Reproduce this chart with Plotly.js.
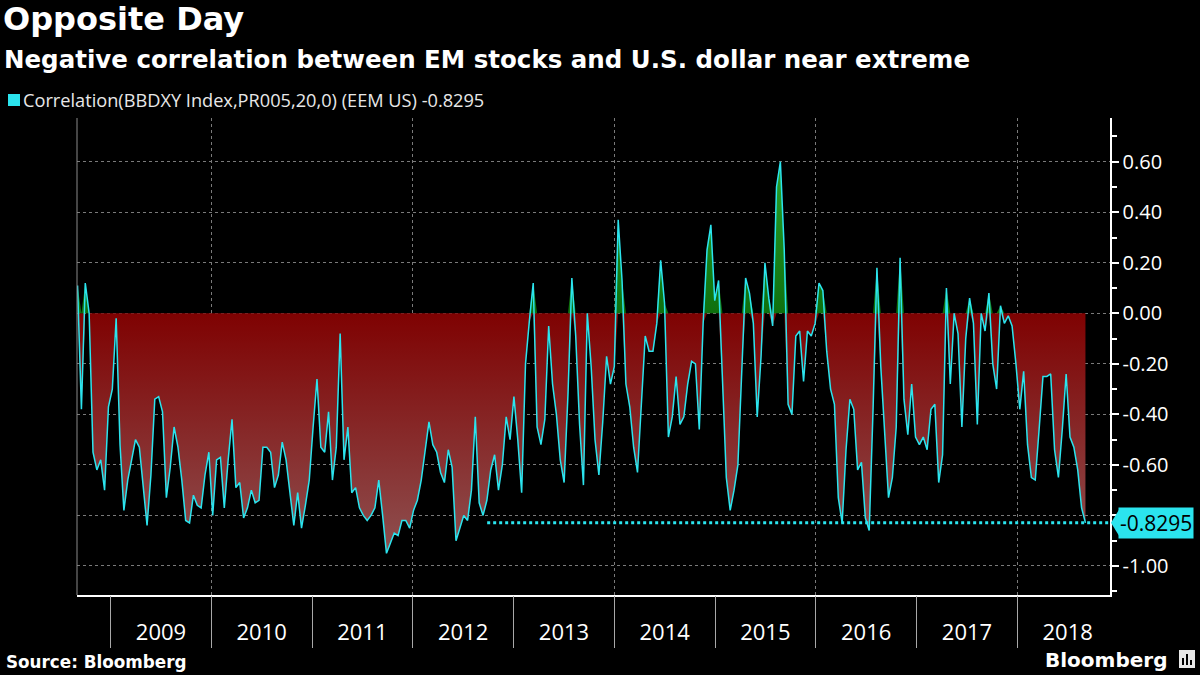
<!DOCTYPE html>
<html>
<head>
<meta charset="utf-8">
<script src="https://cdn.plot.ly/plotly-3.0.1.min.js"></script>
<style>
  html, body { margin: 0; padding: 0; background: #000; }
  #chart { width: 1200px; height: 675px; }
</style>
</head>
<body>
<div id="chart"></div>
<script>
// ---------------- DATA ----------------
const seriesName = 'Correlation(BBDXY Index,PR005,20,0) (EEM US) -0.8295';
const seriesStart = '2008-09-03';   // first observation
const seriesStepDays = 14;          // spacing between observations
const correlation = [
  0.11, -0.38, 0.12, 0.00, -0.55, -0.62, -0.58, -0.70, -0.37, -0.30,
  -0.02, -0.52, -0.78, -0.66, -0.58, -0.50, -0.53, -0.70, -0.84, -0.64,
  -0.34, -0.33, -0.39, -0.73, -0.61, -0.45, -0.53, -0.66, -0.82, -0.83,
  -0.72, -0.76, -0.77, -0.64, -0.55, -0.80, -0.58, -0.57, -0.77, -0.58,
  -0.42, -0.69, -0.67, -0.81, -0.77, -0.70, -0.75, -0.74, -0.53, -0.53,
  -0.55, -0.69, -0.64, -0.51, -0.58, -0.71, -0.84, -0.71, -0.85, -0.76,
  -0.66, -0.45, -0.26, -0.53, -0.55, -0.39, -0.66, -0.53, -0.08, -0.58,
  -0.45, -0.71, -0.69, -0.77, -0.80, -0.82, -0.80, -0.77, -0.66, -0.80,
  -0.95, -0.91, -0.87, -0.88, -0.82, -0.82, -0.85, -0.78, -0.74, -0.66,
  -0.55, -0.43, -0.52, -0.55, -0.63, -0.67, -0.54, -0.61, -0.90, -0.85,
  -0.80, -0.82, -0.70, -0.41, -0.75, -0.80, -0.74, -0.62, -0.56, -0.70,
  -0.60, -0.41, -0.50, -0.33, -0.50, -0.71, -0.20, -0.03, 0.12, -0.45,
  -0.52, -0.42, -0.05, -0.28, -0.40, -0.58, -0.67, -0.32, 0.14, -0.09,
  -0.44, -0.68, 0.00, -0.21, -0.50, -0.64, -0.43, -0.17, -0.28, -0.21,
  0.37, 0.13, -0.28, -0.37, -0.53, -0.63, -0.36, -0.09, -0.15, -0.15,
  -0.04, 0.21, 0.04, -0.49, -0.41, -0.25, -0.44, -0.41, -0.28, -0.19,
  -0.20, -0.46, -0.04, 0.25, 0.35, 0.05, 0.13, -0.28, -0.65, -0.78,
  -0.70, -0.60, -0.21, 0.14, 0.08, -0.04, -0.41, -0.17, 0.20, 0.06,
  -0.05, 0.50, 0.60, 0.25, -0.36, -0.40, -0.09, -0.07, -0.27, -0.07,
  -0.09, -0.04, 0.12, 0.09, -0.15, -0.30, -0.36, -0.73, -0.83, -0.54,
  -0.34, -0.38, -0.62, -0.59, -0.81, -0.86, -0.38, 0.18, -0.21, -0.46,
  -0.73, -0.65, -0.45, 0.22, -0.34, -0.48, -0.28, -0.49, -0.52, -0.49,
  -0.54, -0.38, -0.36, -0.67, -0.56, 0.10, -0.28, 0.00, -0.08, -0.45,
  -0.10, 0.06, -0.04, -0.44, 0.00, -0.07, 0.08, -0.20, -0.30, 0.03,
  -0.04, -0.01, -0.05, -0.20, -0.38, -0.23, -0.52, -0.65, -0.66, -0.46,
  -0.25, -0.25, -0.24, -0.54, -0.65, -0.46, -0.24, -0.49, -0.53, -0.62,
  -0.77, -0.8295
];
const lastValue = -0.8295;
const lastLabel = '-0.8295';
const lastLevelSince = '2012-09-27';   // start of the dotted last-value guide
const xRange = ['2008-09-01', '2018-12-03'];
const yearStarts = ['2009-01-01','2010-01-01','2011-01-01','2012-01-01','2013-01-01',
                    '2014-01-01','2015-01-01','2016-01-01','2017-01-01','2018-01-01'];
const gridYears = ['2010-01-01','2012-01-01','2014-01-01','2016-01-01','2018-01-01'];
const yTickVals = [-1.0, -0.8, -0.6, -0.4, -0.2, 0.0, 0.2, 0.4, 0.6];
const yTickText = ['-1.00', '-0.80', '-0.60', '-0.40', '-0.20', '0.00', '0.20', '0.40', '0.60'];
const titleText = 'Opposite Day';
const subtitleText = 'Negative correlation between EM stocks and U.S. dollar near extreme';
const sourceText = 'Source: Bloomberg';

// ---------------- BUILD ----------------
const t0 = Date.parse(seriesStart + 'T00:00:00Z');
const dates = correlation.map((_, i) =>
  new Date(t0 + i * seriesStepDays * 86400000).toISOString().slice(0, 10));
const zeros = correlation.map(() => 0);
const negPart = correlation.map(v => Math.min(v, 0));
const posPart = correlation.map(v => Math.max(v, 0));

const CYAN = '#2be4ee';
const openSans = '"Open Sans", "DejaVu Sans", sans-serif';
const dejavu = '"DejaVu Sans", sans-serif';

// plot-area pixel helpers for placing text outside the plot (layout only)
const L = 77, R = 1110, T = 118, B = 595;
const px = p => (p - L) / (R - L);
const py = p => (B - p) / (B - T);

const traces = [
  { x: dates, y: zeros, mode: 'lines', line: { width: 0 }, hoverinfo: 'skip', showlegend: false },
  { x: dates, y: negPart, mode: 'lines', line: { width: 0 }, fill: 'tonexty',
    fillcolor: '#7d0202',
    fillgradient: { type: 'vertical', start: 0, stop: -0.95,
      colorscale: [[0, '#7f0202'], [1, '#8e5050']] },
    hoverinfo: 'skip', showlegend: false },
  { x: dates, y: zeros, mode: 'lines', line: { width: 0 }, hoverinfo: 'skip', showlegend: false },
  { x: dates, y: posPart, mode: 'lines', line: { width: 0 }, fill: 'tonexty',
    fillcolor: '#178a17',
    fillgradient: { type: 'vertical', start: 0.6, stop: 0,
      colorscale: [[0, '#2aa02a'], [1, '#0e700e']] },
    hoverinfo: 'skip', showlegend: false },
  { x: [lastLevelSince, xRange[1]], y: [lastValue, lastValue], xaxis: 'x2', yaxis: 'y',
    mode: 'lines', line: { color: CYAN, width: 3, dash: 'dot' }, hoverinfo: 'skip', showlegend: false },
  { x: dates, y: correlation, xaxis: 'x3', yaxis: 'y', name: seriesName,
    mode: 'lines', line: { color: CYAN, width: 1.5 }, showlegend: false }
];

const layout = {
  width: 1200, height: 675,
  paper_bgcolor: '#000', plot_bgcolor: '#000',
  margin: { l: L, r: 1200 - R, t: T, b: 675 - B },
  showlegend: false,
  title: {
    text: '<b>' + titleText + '</b>',
    font: { family: dejavu, size: 32, color: '#ffffff' },
    xref: 'container', x: 3 / 1200, xanchor: 'left',
    yref: 'container', y: 1 - 8 / 675, yanchor: 'top'
  },
  xaxis: {
    type: 'date', range: xRange,
    dtick: 'M12', tick0: '2009-01-01', tickformat: '%Y', ticklabelmode: 'period',
    ticks: '', showgrid: false, zeroline: false,
    showline: true, linecolor: '#ffffff', linewidth: 1.5,
    tickfont: { family: openSans, size: 22, color: '#ffffff' },
    ticklabelstandoff: 17
  },
  xaxis2: {
    type: 'date', range: xRange, overlaying: 'x', anchor: 'y', side: 'bottom',
    tickmode: 'array', tickvals: yearStarts, ticks: 'outside', ticklen: 52,
    tickcolor: '#a8a8a8', tickwidth: 1, showticklabels: false,
    showgrid: false, zeroline: false, showline: false
  },
  xaxis3: {
    type: 'date', range: xRange, overlaying: 'x', anchor: 'y', side: 'bottom',
    tickmode: 'array', tickvals: gridYears, ticks: '', showticklabels: false,
    showgrid: true, gridcolor: '#7a7a7a', griddash: 'dot', gridwidth: 1,
    zeroline: false, showline: false
  },
  yaxis: {
    side: 'right', range: [-1.115, 0.773],
    tickmode: 'array', tickvals: yTickVals, ticktext: yTickText,
    ticks: 'outside', ticklen: 7, tickwidth: 2, tickcolor: '#ffffff',
    minor: { dtick: 0.1, tick0: 0, ticks: 'outside', ticklen: 5, tickcolor: '#ffffff', showgrid: false },
    showgrid: true, gridcolor: '#7a7a7a', griddash: 'dot', gridwidth: 1,
    zeroline: false, showline: true, linecolor: '#ffffff', linewidth: 1.5,
    tickfont: { family: openSans, size: 20, color: '#ffffff' }
  },
  shapes: [
    // left frame edge
    { type: 'line', xref: 'paper', yref: 'paper', x0: 0, x1: 0, y0: 0, y1: 1,
      line: { color: '#8a8a8a', width: 1 } },
    // legend swatch
    { type: 'rect', xref: 'paper', yref: 'paper', x0: px(8), x1: px(20), y0: py(106), y1: py(94),
      fillcolor: CYAN, line: { width: 0 } },
    // last value pointer
    { type: 'path', xref: 'paper', xsizemode: 'pixel', xanchor: 1,
      yref: 'y', ysizemode: 'pixel', yanchor: lastValue,
      path: 'M 1,0 L 9,13 L 9,-13 Z', fillcolor: CYAN, line: { width: 0 } },
    // Bloomberg icon
    { type: 'rect', xref: 'paper', yref: 'paper', x0: px(1179), x1: px(1195), y0: py(668), y1: py(650),
      fillcolor: '#e8e8e8', line: { width: 0 } },
    { type: 'rect', xref: 'paper', yref: 'paper', x0: px(1182), x1: px(1184), y0: py(665), y1: py(658),
      fillcolor: '#000', line: { width: 0 } },
    { type: 'rect', xref: 'paper', yref: 'paper', x0: px(1186), x1: px(1188), y0: py(665), y1: py(654),
      fillcolor: '#000', line: { width: 0 } },
    { type: 'rect', xref: 'paper', yref: 'paper', x0: px(1190), x1: px(1192), y0: py(665), y1: py(660),
      fillcolor: '#000', line: { width: 0 } }
  ],
  annotations: [
    { text: '<b>' + subtitleText + '</b>', xref: 'paper', yref: 'paper',
      x: px(2), y: py(59.5), xanchor: 'left', yanchor: 'middle', showarrow: false,
      font: { family: dejavu, size: 24.5, color: '#ffffff' } },
    { text: seriesName, xref: 'paper', yref: 'paper',
      x: px(21), y: py(100), xanchor: 'left', yanchor: 'middle', showarrow: false,
      font: { family: openSans, size: 18.2, color: '#e8e8e8' } },
    { text: lastLabel, xref: 'paper', yref: 'y', x: px(1118), y: lastValue,
      xanchor: 'left', yanchor: 'middle', showarrow: false, bgcolor: CYAN, borderpad: 1,
      font: { family: openSans, size: 21, color: '#000000' } },
    { text: '<b>' + sourceText + '</b>', xref: 'paper', yref: 'paper',
      x: px(4), y: py(662), xanchor: 'left', yanchor: 'middle', showarrow: false,
      font: { family: dejavu, size: 16.8, color: '#ffffff' } },
    { text: '<b>Bloomberg</b>', xref: 'paper', yref: 'paper',
      x: px(1169), y: py(660), xanchor: 'right', yanchor: 'middle', showarrow: false,
      font: { family: dejavu, size: 20, color: '#ffffff' } }
  ]
};

Plotly.newPlot('chart', traces, layout, { displayModeBar: false, staticPlot: true });
</script>
</body>
</html>
